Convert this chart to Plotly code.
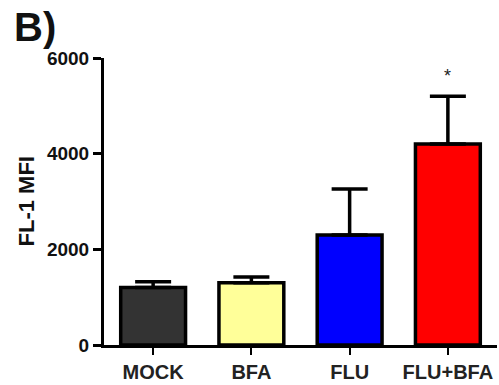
import plotly.graph_objects as go

categories = ["MOCK", "BFA", "FLU", "FLU+BFA"]
values = [1200, 1300, 2300, 4200]
errors_up = [120, 120, 960, 1000]
bar_colors = ["#333333", "#FFFF99", "#0000FF", "#FF0000"]
y_ticks = [0, 2000, 4000, 6000]
y_title = "FL-1 MFI"
panel_label = "B)"
sig_marks = ["", "", "", "*"]

FONT = "Liberation Sans, Arial, Helvetica, sans-serif"

fig = go.Figure()
fig.add_trace(go.Bar(
    x=categories,
    y=values,
    width=0.66,
    marker=dict(color=bar_colors, line=dict(color="black", width=3.5)),
    error_y=dict(type="data", array=errors_up, arrayminus=[0] * len(values),
                 symmetric=False, color="black", thickness=3.5, width=18),
    showlegend=False,
))

for cat, v, e, s in zip(categories, values, errors_up, sig_marks):
    if s:
        fig.add_annotation(x=cat, y=v + e, text=s, showarrow=False,
                           yanchor="bottom", yshift=8,
                           font=dict(family=FONT, size=18, color="#222"))

fig.add_annotation(xref="paper", yref="paper", x=(26 - 104) / 393, y=0.5,
                   text=y_title, textangle=-90, showarrow=False,
                   xanchor="center", yanchor="middle",
                   font=dict(family=FONT, size=22, color="#111", weight="bold"))

fig.update_layout(
    width=499, height=385,
    margin=dict(l=104, r=2, t=58, b=40),
    paper_bgcolor="white", plot_bgcolor="white",
    title=dict(text=panel_label, x=14 / 499, xanchor="left", xref="container",
               y=0.965, yanchor="top", yref="container",
               font=dict(family=FONT, size=40, color="#111", weight="bold")),
    xaxis=dict(type="category", range=[-0.5, 3.5], showline=True,
               linecolor="black", linewidth=3, ticks="outside", ticklen=7,
               tickwidth=2, tickcolor="black", showgrid=False, zeroline=False,
               tickfont=dict(family=FONT, size=20, color="#222", weight="bold")),
    yaxis=dict(range=[0, 6000], tickvals=y_ticks, showline=True,
               linecolor="black", linewidth=3, ticks="outside", ticklen=8,
               tickwidth=2.5, tickcolor="black", showgrid=False, zeroline=False,
               tickfont=dict(family=FONT, size=19, color="#111", weight="bold")),
)

fig.write_html("out.html")
